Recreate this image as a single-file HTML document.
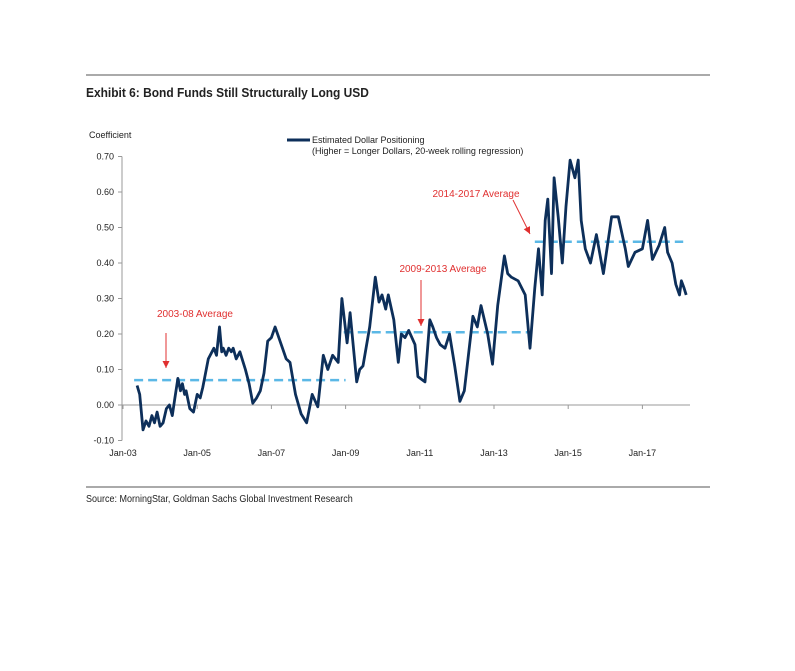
<!DOCTYPE html>
<html><head><meta charset="utf-8"><style>
body{margin:0;background:#fff;width:795px;height:666px;overflow:hidden;font-family:"Liberation Sans",sans-serif}
</style></head><body>
<svg width="795" height="666" font-family="Liberation Sans, sans-serif">
<line x1="86" y1="75" x2="710" y2="75" stroke="#555" stroke-width="1"/>
<text x="86" y="97" font-size="13" font-weight="bold" fill="#222" transform="scale(0.92,1)" transform-origin="86 97">Exhibit 6: Bond Funds Still Structurally Long USD</text>
<text x="89" y="138" font-size="9" fill="#222">Coefficient</text>
<g>
<line x1="287" y1="140" x2="310" y2="140" stroke="#0d2f5a" stroke-width="3"/>
<text x="312" y="143" font-size="9" fill="#222">Estimated Dollar Positioning</text>
<text x="312" y="154" font-size="9" fill="#222">(Higher = Longer Dollars, 20-week rolling regression)</text>
</g>
<g id="axes"></g>
<g id="avg"></g>
<path id="series" fill="none" stroke="#0d2f5a" stroke-width="2.8" stroke-linejoin="round"/>
<g id="ann"></g>
<line x1="86" y1="487" x2="710" y2="487" stroke="#555" stroke-width="1"/>
<text x="86" y="502" font-size="10" fill="#222" transform="scale(0.9,1)" transform-origin="86 502">Source: MorningStar, Goldman Sachs Global Investment Research</text>
</svg>
<script>
const yTicks=[-0.10,0.00,0.10,0.20,0.30,0.40,0.50,0.60,0.70];
const xTickLabels=["Jan-03","Jan-05","Jan-07","Jan-09","Jan-11","Jan-13","Jan-15","Jan-17"];
const xTickYears=[2003,2005,2007,2009,2011,2013,2015,2017];
const dates=[2003.38,2003.45,2003.54,2003.62,2003.7,2003.78,2003.85,2003.92,2004.0,2004.08,2004.17,2004.25,2004.33,2004.4,2004.48,2004.55,2004.6,2004.66,2004.7,2004.8,2004.9,2005.0,2005.08,2005.15,2005.3,2005.45,2005.52,2005.6,2005.66,2005.7,2005.78,2005.85,2005.92,2005.97,2006.05,2006.15,2006.3,2006.4,2006.5,2006.6,2006.7,2006.8,2006.9,2007.0,2007.1,2007.2,2007.3,2007.4,2007.5,2007.65,2007.8,2007.95,2008.1,2008.25,2008.4,2008.52,2008.65,2008.8,2008.9,2009.04,2009.12,2009.3,2009.38,2009.47,2009.65,2009.8,2009.9,2009.98,2010.08,2010.15,2010.3,2010.42,2010.5,2010.6,2010.7,2010.87,2010.95,2011.14,2011.27,2011.35,2011.45,2011.55,2011.68,2011.8,2011.94,2012.08,2012.2,2012.3,2012.43,2012.55,2012.65,2012.83,2012.96,2013.1,2013.28,2013.37,2013.47,2013.65,2013.84,2013.97,2014.1,2014.2,2014.3,2014.38,2014.45,2014.55,2014.62,2014.73,2014.84,2014.94,2015.05,2015.18,2015.27,2015.35,2015.46,2015.6,2015.76,2015.95,2016.17,2016.35,2016.54,2016.62,2016.8,2017.0,2017.14,2017.27,2017.45,2017.6,2017.68,2017.8,2017.9,2018.0,2018.05,2018.12,2018.18];
const values=[0.055,0.03,-0.07,-0.045,-0.06,-0.03,-0.05,-0.02,-0.06,-0.05,-0.01,0.0,-0.03,0.02,0.075,0.04,0.06,0.03,0.04,-0.01,-0.02,0.03,0.02,0.05,0.13,0.16,0.14,0.22,0.15,0.16,0.14,0.16,0.15,0.16,0.13,0.15,0.10,0.06,0.005,0.02,0.04,0.09,0.18,0.19,0.22,0.19,0.16,0.13,0.12,0.03,-0.025,-0.05,0.03,-0.005,0.14,0.10,0.14,0.12,0.30,0.175,0.26,0.065,0.10,0.11,0.22,0.36,0.29,0.31,0.27,0.31,0.24,0.12,0.20,0.19,0.21,0.17,0.08,0.065,0.24,0.22,0.19,0.17,0.16,0.20,0.11,0.01,0.04,0.13,0.25,0.22,0.28,0.20,0.115,0.28,0.42,0.37,0.36,0.35,0.31,0.16,0.33,0.44,0.31,0.52,0.58,0.37,0.64,0.53,0.40,0.56,0.69,0.64,0.69,0.52,0.44,0.40,0.48,0.37,0.53,0.53,0.44,0.39,0.43,0.44,0.52,0.41,0.45,0.50,0.43,0.40,0.34,0.31,0.35,0.33,0.31];
const avgLabels=["2003-08 Average","2009-2013 Average","2014-2017 Average"];
const avgStart=[2003.3,2008.95,2014.1];
const avgEnd=[2009.0,2014.0,2018.1];
const avgValues=[0.07,0.205,0.46];
const NS="http://www.w3.org/2000/svg";
const X=yr=>123+(yr-2003)*37.1;
const Y=v=>405-v*355;
function mk(tag,attrs,parent,txt){const e=document.createElementNS(NS,tag);for(const k in attrs)e.setAttribute(k,attrs[k]);if(txt!==undefined)e.textContent=txt;parent.appendChild(e);return e;}
const ax=document.getElementById('axes');
let e=mk('line',{x1:122,y1:Y(0.7),x2:122,y2:Y(-0.1),stroke:'#999'},ax);


e=mk('line',{x1:122,y1:Y(0),x2:690,y2:Y(0),stroke:'#999'},ax);


yTicks.forEach(t=>{
 mk('line',{x1:118,y1:Y(t),x2:122,y2:Y(t),stroke:'#999'},ax);
 e=mk('text',{x:114,y:Y(t)+3,'font-size':9,'text-anchor':'end',fill:'#222'},ax,t.toFixed(2));
 
 
});
xTickYears.forEach((yr,i)=>{
 mk('line',{x1:X(yr),y1:Y(0),x2:X(yr),y2:Y(0)+4,stroke:'#999'},ax);
 e=mk('text',{x:X(yr),y:456,'font-size':9,'text-anchor':'middle',fill:'#222'},ax,xTickLabels[i]);
 
 
});
const av=document.getElementById('avg');
avgValues.forEach((v,i)=>{
 e=mk('line',{x1:X(avgStart[i]),y1:Y(v),x2:X(avgEnd[i]),y2:Y(v),stroke:'#5bb8e6','stroke-width':2.5,'stroke-dasharray':'9,5'},av);
 
 
});
document.getElementById('series').setAttribute('d',dates.map((d,i)=>(i?'L':'M')+X(d).toFixed(1)+','+Y(values[i]).toFixed(1)).join(''));
const an=document.getElementById('ann');
const labPos=[[195,317],[443,272],[476,197]];
labPos.forEach((p,i)=>{
 e=mk('text',{x:p[0],y:p[1],'font-size':10,'text-anchor':'middle',fill:'#e03030'},an,avgLabels[i]);
 
 
});
const arrows=[[166,333,166,368],[421,280,421,326],[513,200,530,234]];
arrows.forEach(a=>{
 e=mk('line',{x1:a[0],y1:a[1],x2:a[2],y2:a[3],stroke:'#e03030','stroke-width':1},an);
 
 
 const ang=Math.atan2(a[3]-a[1],a[2]-a[0]);
 const L=7,W=3.5;
 const bx=a[2]-L*Math.cos(ang),by=a[3]-L*Math.sin(ang);
 const px=-Math.sin(ang)*W,py=Math.cos(ang)*W;
 mk('polygon',{points:`${a[2]},${a[3]} ${bx+px},${by+py} ${bx-px},${by-py}`,fill:'#e03030'},an);
});
</script>
</body></html>
